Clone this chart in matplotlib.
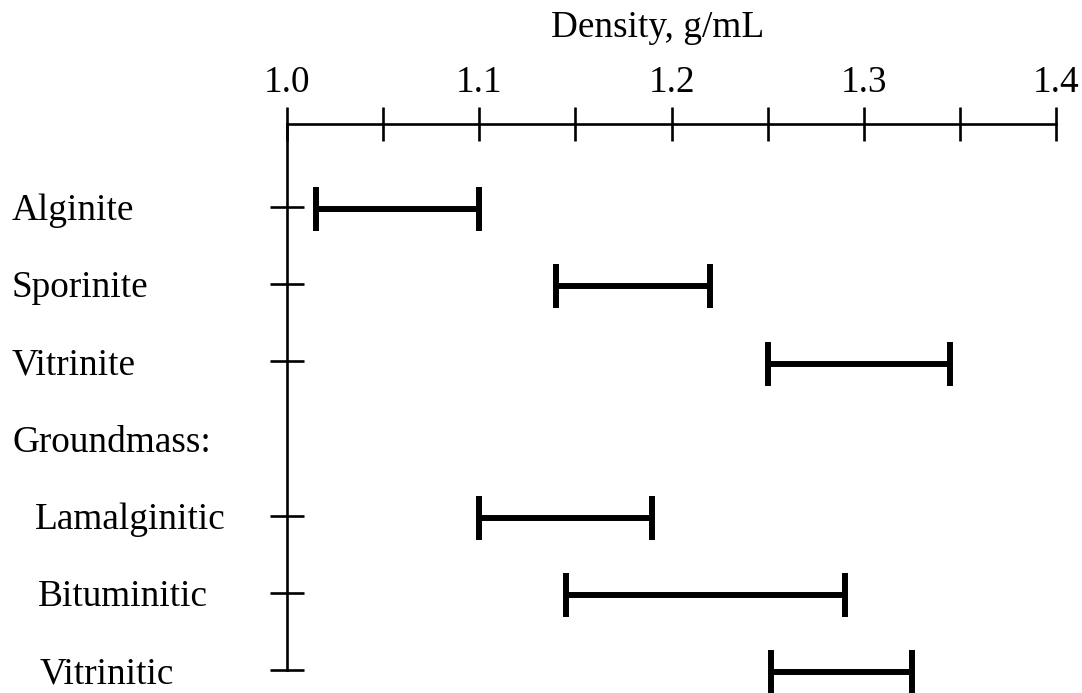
import matplotlib
matplotlib.use("Agg")
import matplotlib.pyplot as plt
from matplotlib.transforms import blended_transform_factory

# Data
labels = ["Alginite", "Sporinite", "Vitrinite", "Groundmass:",
          "Lamalginitic", "Bituminitic", "Vitrinitic"]
label_indent_px = [12, 12, 12, 12, 35, 38, 40]
has_range = [True, True, True, False, True, True, True]
density_low = [1.015, 1.14, 1.25, None, 1.10, 1.145, 1.252]
density_high = [1.10, 1.22, 1.345, None, 1.19, 1.29, 1.325]
xticks_major = [1.0, 1.1, 1.2, 1.3, 1.4]
xticks_all = [1.0, 1.05, 1.1, 1.15, 1.2, 1.25, 1.3, 1.35, 1.4]

W, H = 1082, 693
fig = plt.figure(figsize=(W / 100, H / 100), dpi=100)
plt.rcParams['font.family'] = ['Liberation Serif', 'DejaVu Serif']
FS = 26.8
LW = 1.9

ax_left, ax_right = 287 / W, 1056 / W
ax_top_px, ax_bot_px = 124, 670
ax = fig.add_axes([ax_left, 1 - ax_bot_px / H, ax_right - ax_left, (ax_bot_px - ax_top_px) / H])

ax.set_xlim(1.0, 1.4)
ax.set_ylim(6, -1.075)

for s in ["bottom", "right"]:
    ax.spines[s].set_visible(False)
for s in ["top", "left"]:
    ax.spines[s].set_linewidth(LW)

ax.xaxis.tick_top()
ax.set_xticks(xticks_all)
ax.set_xticklabels([f"{v:.1f}" if any(abs(v - m) < 1e-9 for m in xticks_major) else "" for v in xticks_all],
                   fontsize=FS)
ax.tick_params(axis="x", direction="inout", length=24, width=LW, pad=5)

yt = [i for i, h in enumerate(has_range) if h]
ax.set_yticks(yt)
ax.set_yticklabels([])
ax.tick_params(axis="y", direction="inout", length=25, width=LW)

for i, (lo, hi) in enumerate(zip(density_low, density_high)):
    if lo is None:
        continue
    eb = ax.errorbar([(lo + hi) / 2], [i + 0.03], xerr=[(hi - lo) / 2], fmt="none",
                     ecolor="black", elinewidth=4.3, capsize=16, capthick=4.3)
    for art in eb.lines[1] + eb.lines[2]:
        art.set_clip_on(False)

trans = blended_transform_factory(fig.transFigure, ax.transData)
for i, (lab, px) in enumerate(zip(labels, label_indent_px)):
    ax.text(px / W, i, lab, transform=trans, ha="left", va="center_baseline",
            fontsize=FS, clip_on=False)

fig.text(658 / W, 1 - 28 / H, "Density, g/mL", ha="center", va="center", fontsize=FS)

fig.savefig("out.png", dpi=100)
